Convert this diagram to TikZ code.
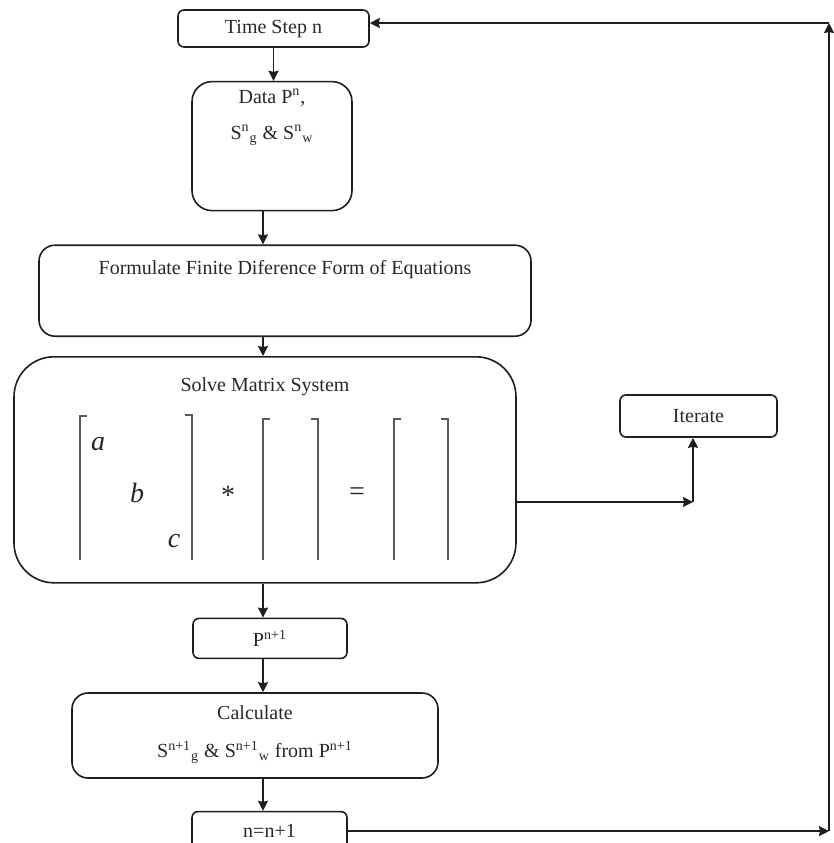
\documentclass[tikz,border=0pt]{standalone}
\usepackage{fontspec}
\setmainfont{Liberation Serif}
\usepackage{xcolor}
\usepackage{tikz}
\definecolor{linegray}{RGB}{30, 30, 30}
\definecolor{textgray}{RGB}{40, 40, 40}
\definecolor{bracketgray}{RGB}{90, 90, 90}
\usetikzlibrary{arrows.meta, positioning}

\begin{document}
\begin{tikzpicture}[
        x=0.5pt, y=-0.5pt,
        every node/.style={font=\fontsize{10}{12}\selectfont, text=textgray},
        box/.style={rectangle, rounded corners=3pt, draw=linegray, line width=0.8pt, inner sep=0pt},
        bigbox/.style={box, rounded corners=8pt},
        boxtext/.style={inner sep=0pt, align=center},
        entry/.style={anchor=base, inner sep=0pt, font=\fontsize{14}{16}\selectfont\itshape},
        bracket/.style={line width=0.6pt, color=bracketgray},
        arrow/.style={line width=0.8pt,->,>={Stealth[length=5pt,width=5pt,inset=0.5pt]},color=linegray}
    ]

        \useasboundingbox (0,0) rectangle (834,843);
        \coordinate (spine) at (263,0);

        \node[box, minimum width=95.5pt, minimum height=18.5pt] (time) at (273.5,28.5) {Time Step n};
        \node[bigbox, rounded corners=10pt, minimum width=80pt, minimum height=64.5pt, below=16.5pt of time, xshift=-0.75pt] (data) {};
        \node[boxtext, below=4pt of data.north] (datatext) {Data P\textsuperscript{n},\\[6pt]S\textsuperscript{n}\textsubscript{g} \& S\textsuperscript{n}\textsubscript{w}};

        \node[bigbox, minimum width=246pt, minimum height=45.5pt, below=16.5pt of data, xshift=6.5pt] (formulate) {};
        \node[boxtext, below=8pt of formulate.north] (formtext) {Formulate Finite Diference Form of Equations};

        \node[bigbox, rounded corners=20pt, minimum width=251pt, minimum height=113pt, below=9.5pt of formulate, xshift=-10pt] (solve) {};
        \node[boxtext, below=10.5pt of solve.north] (solvetext) {Solve Matrix System};

        \node[box, minimum width=78.5pt, minimum height=21pt] (iterate) at (698.5,416) {Iterate};

        \node[box, minimum width=77pt, minimum height=20pt, below=17pt of solve, xshift=2.5pt] (pnext) {P\textsuperscript{n+1}};
        \node[bigbox, minimum width=183pt, minimum height=42.5pt, below=16.5pt of pnext, xshift=-7.5pt] (calc) {};
        \node[boxtext, below=6.5pt of calc.north] (calctext) {Calculate\\[7pt]S\textsuperscript{n+1}\textsubscript{g} \& S\textsuperscript{n+1}\textsubscript{w} from P\textsuperscript{n+1}};
        \node[box, minimum width=77.5pt, minimum height=19.5pt, below=16pt of calc, xshift=7.25pt] (nnext) {n=n+1};

        % matrix system
        \draw[bracket] (87,416) -- (80,416) -- (80,560);
        \draw[bracket] (185,415) -- (192,415) -- (192,560);
        \draw[bracket] (270,419) -- (263,419) -- (263,560);
        \draw[bracket] (311,419) -- (318,419) -- (318,560);
        \draw[bracket] (401,419) -- (394,419) -- (394,560);
        \draw[bracket] (441,419) -- (448,419) -- (448,560);
        \node[entry] (ea) at (98,450) {a};
        \node[entry] (eb) at (137,502) {b};
        \node[entry] (ec) at (174,547) {c};
        \node[entry, font=\fontsize{14}{16}\selectfont] (times) at (228,504) {*};
        \node[entry, font=\fontsize{14}{16}\selectfont] (equals) at (357,500) {=};

        \coordinate (itturn) at (693,502);
        \coordinate (loopx) at (829,23);

        \draw[arrow] (time) -- (time |- data.north);
        \draw[arrow] (data.south -| spine) -- (formulate.north -| spine);
        \draw[arrow] (formulate.south -| spine) -- (solve.north -| spine);
        \draw[arrow] (solve.south -| spine) -- (pnext.north -| spine);
        \draw[arrow] (pnext.south -| spine) -- (calc.north -| spine);
        \draw[arrow] (calc.south -| spine) -- (nnext.north -| spine);
        \draw[arrow] (solve.east |- itturn) -- (itturn);
        \draw[arrow] (itturn) -- (iterate.south -| itturn);
        \draw[arrow] (nnext.east) -- (nnext.east -| loopx);
        \draw[arrow] (nnext.east -| loopx) -- (loopx);
        \draw[arrow] (loopx) -- (loopx -| time.east);

    \end{tikzpicture}
\end{document}
